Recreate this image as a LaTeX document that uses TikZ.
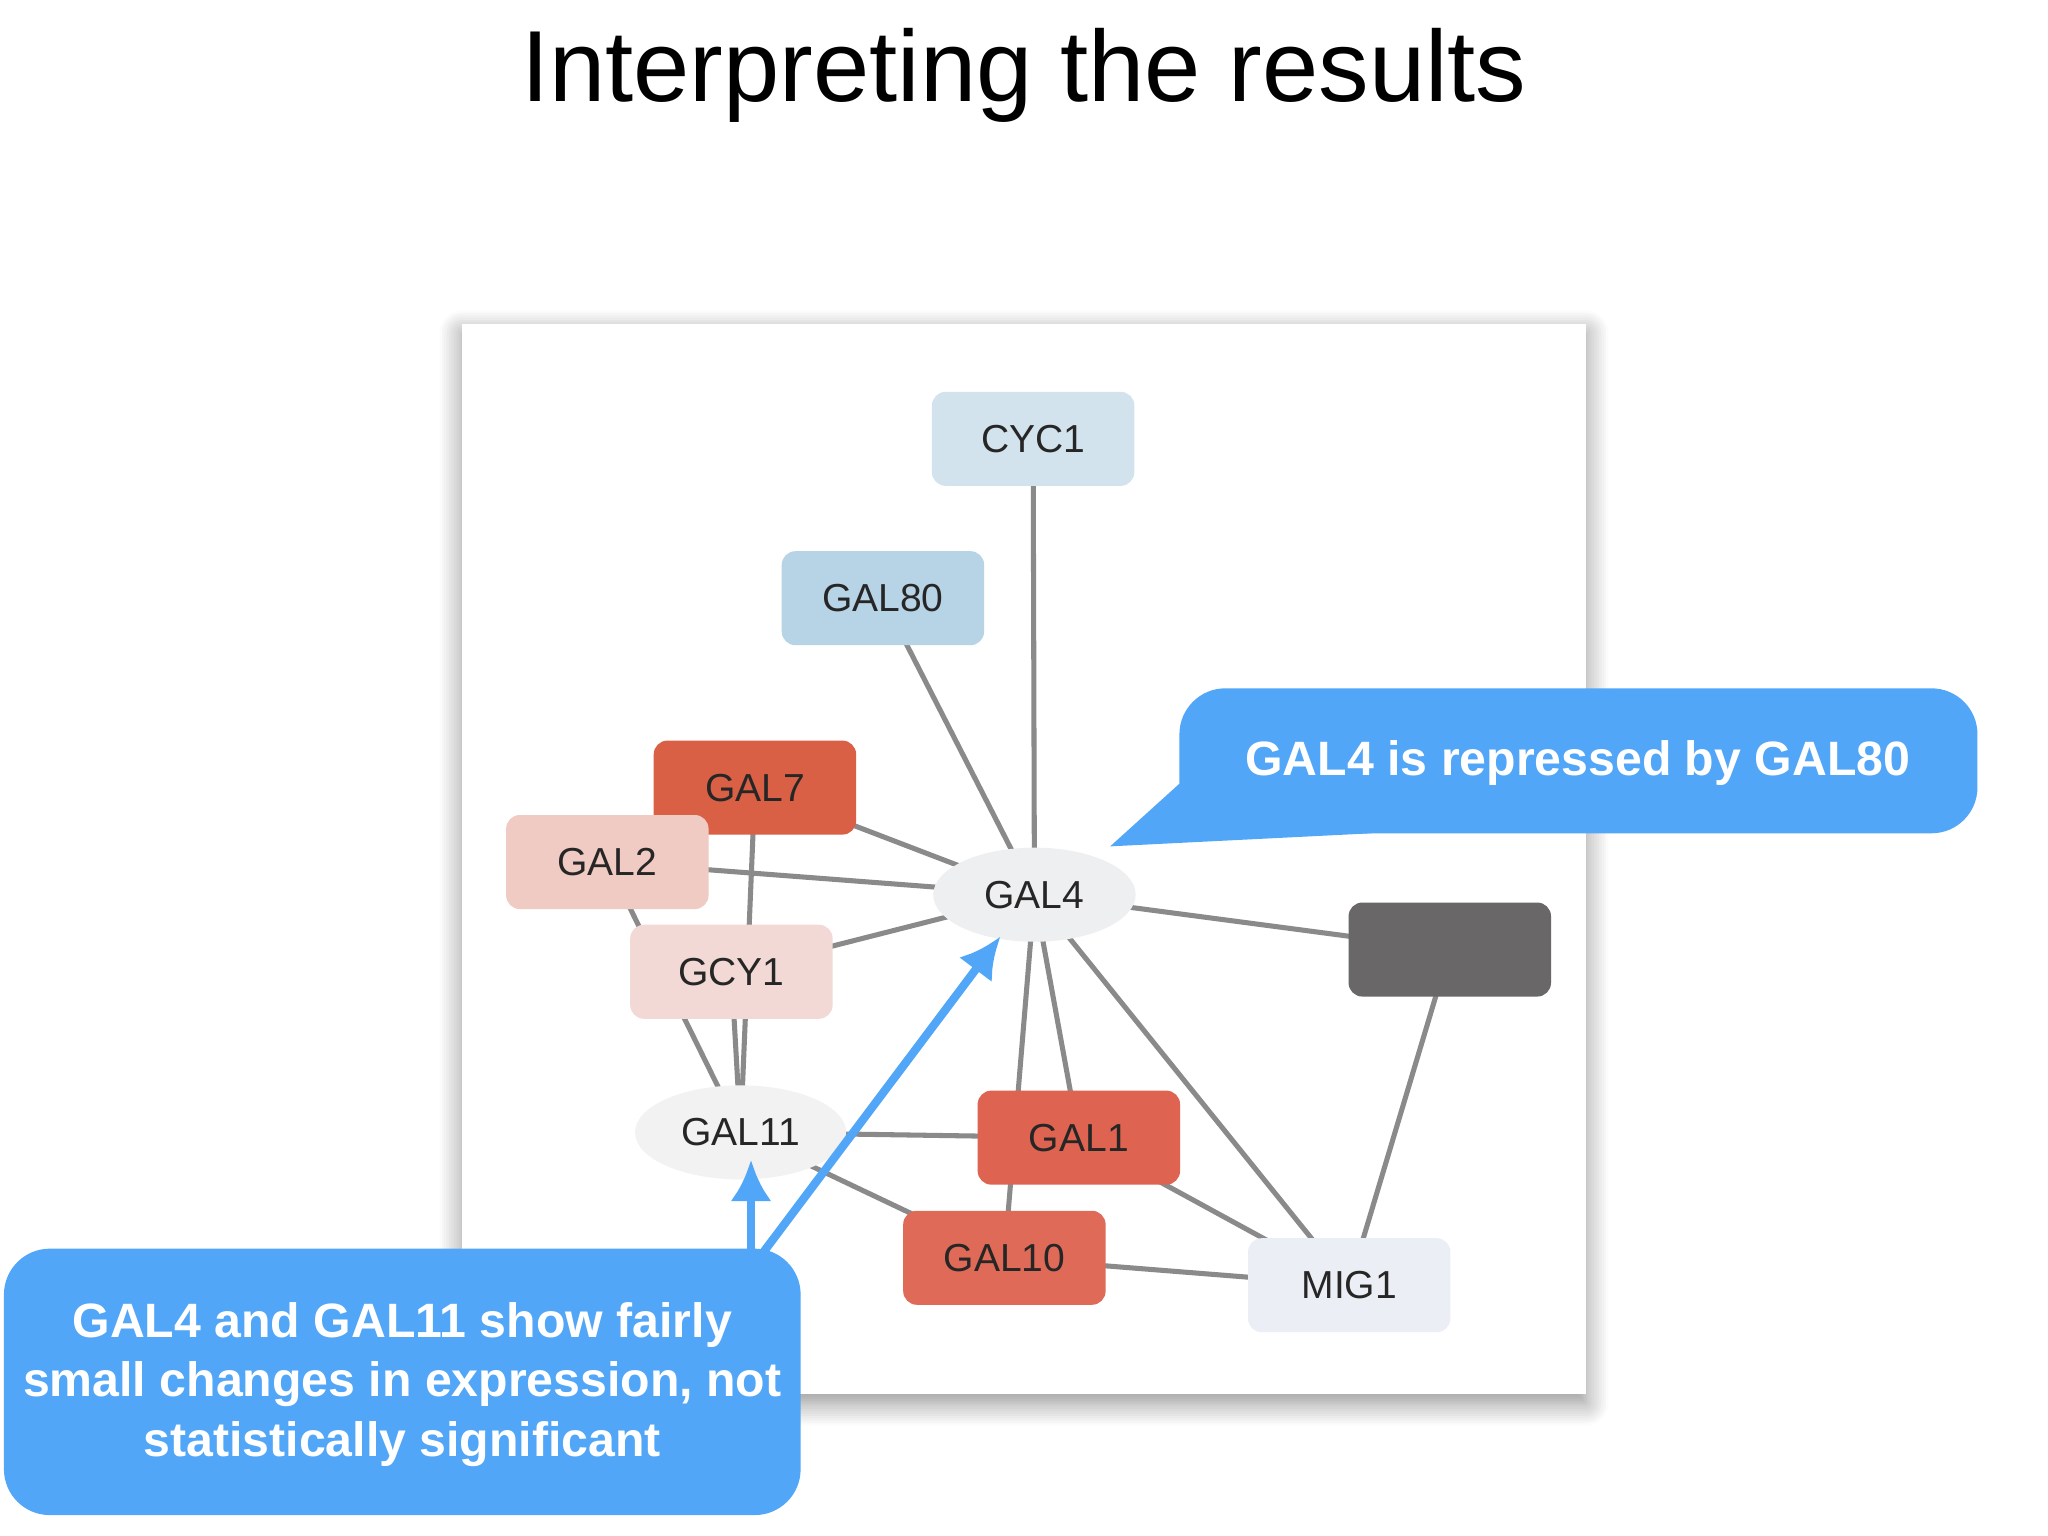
\documentclass[tikz,border=0pt]{standalone}
\usepackage{fontspec}
\setmainfont{Liberation Sans}
\usetikzlibrary{shadows.blur,shapes.geometric,arrows.meta}
\definecolor{callout}{HTML}{52A6F7}
\definecolor{edgec}{HTML}{8A8A8A}
\begin{document}
\begin{tikzpicture}[x=0.01cm,y=-0.01cm,
  gene/.style={rectangle,rounded corners=3pt,minimum width=155*0.01cm,minimum height=72*0.01cm,font=\fontsize{8.5}{10}\selectfont,text=black!85},
  oval/.style={ellipse,minimum width=155*0.01cm,minimum height=72*0.01cm,font=\fontsize{8.5}{10}\selectfont,text=black!85},
  edge/.style={draw=edgec,line width=1.1pt},
  ctext/.style={text=white,font=\bfseries\fontsize{10.5}{13}\selectfont,align=center},
  carrow/.style={draw=callout,line width=1.8pt,-{Latex[length=9pt,width=9pt]}}]
\useasboundingbox (0,0) rectangle (1568,1176);
\node[font=\fontsize{22}{26}\selectfont] (title) at (784,58) {Interpreting the results};
\fill[white,blur shadow={shadow xshift=0pt,shadow yshift=-2pt,shadow blur radius=5pt,shadow opacity=45,shadow blur steps=10}] (354,248) rectangle (1214,1067);
% centres
\coordinate (cCYC1) at (791,336);
\coordinate (cGAL80) at (676,458);
\coordinate (cGAL7) at (578,603);
\coordinate (cGAL2) at (465,660);
\coordinate (cGCY1) at (560,744);
\coordinate (cGAL4) at (792,685);
\coordinate (cGAL11) at (567,867);
\coordinate (cGAL1) at (826,871);
\coordinate (cGAL10) at (769,963);
\coordinate (cMIG1) at (1033,984);
\coordinate (cX) at (1110,727);
% edges
\foreach \a/\b in {CYC1/GAL4,GAL80/GAL4,GAL7/GAL4,GAL2/GAL4,GCY1/GAL4,GAL4/X,GAL4/GAL1,GAL4/GAL10,GAL4/MIG1,X/MIG1,GAL2/GAL11,GAL7/GAL11,GCY1/GAL11,GAL11/GAL1,GAL11/GAL10,GAL1/MIG1,GAL10/MIG1}
  \draw[edge] (c\a) -- (c\b);
% nodes
\node[gene,fill={rgb,255:red,211;green,227;blue,237}] (CYC1) at (cCYC1) {CYC1};
\node[gene,fill={rgb,255:red,183;green,211;blue,230}] (GAL80) at (cGAL80) {GAL80};
\node[gene,fill={rgb,255:red,217;green,95;blue,69}] (GAL7) at (cGAL7) {GAL7};
\node[gene,fill={rgb,255:red,239;green,203;blue,196}] (GAL2) at (cGAL2) {GAL2};
\node[gene,fill={rgb,255:red,242;green,217;blue,214}] (GCY1) at (cGCY1) {GCY1};
\node[oval,fill={rgb,255:red,238;green,239;blue,240}] (GAL4) at (cGAL4) {GAL4};
\node[oval,fill={rgb,255:red,243;green,242;blue,242}] (GAL11) at (cGAL11) {GAL11};
\node[gene,fill={rgb,255:red,222;green,99;blue,80}] (GAL1) at (cGAL1) {GAL1};
\node[gene,fill={rgb,255:red,224;green,106;blue,88}] (GAL10) at (cGAL10) {GAL10};
\node[gene,fill={rgb,255:red,235;green,239;blue,245}] (MIG1) at (cMIG1) {MIG1};
\node[gene,fill={rgb,255:red,106;green,103;blue,105}] (X) at (cX) {};
% top callout
\fill[callout] (903,600) -- (850,648) -- (1050,638) -- cycle;
\fill[callout,rounded corners=10pt] (903,527) rectangle (1514,638);
\node[ctext] (c1) at (1208,584) {GAL4 is repressed by GAL80};
% bottom callout
\fill[callout,rounded corners=10pt] (3,956) rectangle (613,1160);
\node[ctext] (c2) at (308,1060) {GAL4 and GAL11 show fairly\\small changes in expression, not\\statistically significant};
\coordinate (a1) at (575,958);
\coordinate (a2) at (585,958);
\coordinate (t1) at (575,888);
\coordinate (t2) at (766,717);
\draw[carrow] (a1) -- (t1);
\draw[carrow] (a2) -- (t2);
\end{tikzpicture}
\end{document}
